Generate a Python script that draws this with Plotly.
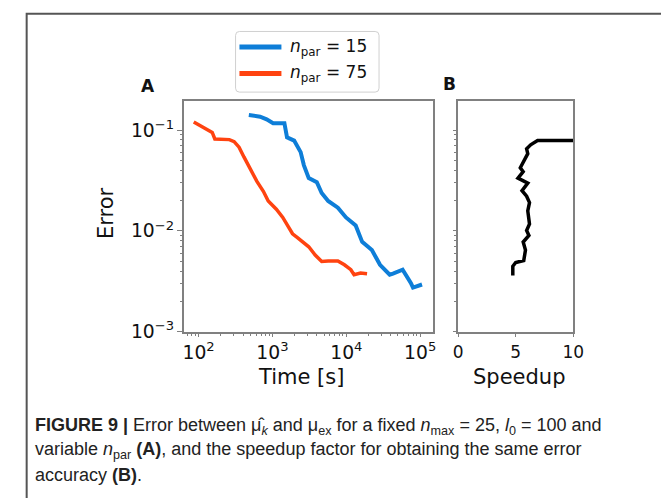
import plotly.graph_objects as go

# ---------------- data ----------------
red_time = [86, 111, 135, 153, 166, 203, 261, 303, 353, 411, 455, 529, 616, 753, 877,
            1129, 1380, 1607, 1871, 2178, 2535, 3100, 3790, 4640, 5680, 7690, 9420,
            11520, 12740, 15590, 19100]
red_err = [0.1205, 0.108, 0.0991, 0.0948, 0.0817, 0.081, 0.0805, 0.0769, 0.0678, 0.0542,
           0.0467, 0.0387, 0.031, 0.0247, 0.0198, 0.0164, 0.0136, 0.0113, 0.00937,
           0.00857, 0.00778, 0.00696, 0.00577, 0.00497, 0.00504, 0.00504, 0.00461,
           0.00412, 0.00368, 0.00382, 0.00376]

blue_time = [479, 681, 834, 1021, 1452, 1575, 1967, 2410, 2662, 3100, 3990, 4640, 5680,
             7690, 9900, 13400, 16400, 22200, 28600, 38700, 42900, 57900, 74700, 80000,
             106000]
blue_err = [0.141, 0.136, 0.128, 0.117, 0.117, 0.0848, 0.0787, 0.0605, 0.045, 0.0334,
            0.0305, 0.0238, 0.0198, 0.017, 0.0136, 0.0113, 0.00778, 0.00646, 0.00461,
            0.00368, 0.00376, 0.00412, 0.00305, 0.00274, 0.00294]

speedup = [10.6, 6.9, 6.3, 5.95, 6.05, 5.75, 5.4, 5.65, 5.2, 6.05, 5.55, 5.95, 6.2, 6.05,
           6.2, 5.95, 6.15, 5.65, 5.85, 5.7, 5.0, 4.75, 4.75]
speedup_err = [0.0787, 0.0787, 0.0715, 0.0653, 0.0584, 0.0503, 0.0423, 0.0387, 0.0334,
               0.0298, 0.0251, 0.0221, 0.0191, 0.0158, 0.0117, 0.0101, 0.00902, 0.00776,
               0.00645, 0.00508, 0.00486, 0.00446, 0.0036]

series_names = ["<i>n</i><sub>par</sub> = 15", "<i>n</i><sub>par</sub> = 75"]
speed_ticks = [0, 5, 10]

BLUE = "#0e7ed8"
RED = "#ff4310"
W, H = 669, 498


def px(x):
    return x / W


def py(y):
    return 1 - y / H


fig = go.Figure()
fig.add_trace(go.Scatter(x=blue_time, y=blue_err, mode="lines", name=series_names[0],
                         line=dict(color=BLUE, width=4), xaxis="x", yaxis="y",
                         showlegend=False))
fig.add_trace(go.Scatter(x=red_time, y=red_err, mode="lines", name=series_names[1],
                         line=dict(color=RED, width=3.5), xaxis="x", yaxis="y",
                         showlegend=False))
fig.add_trace(go.Scatter(x=speedup, y=speedup_err, mode="lines", name="speedup",
                         line=dict(color="black", width=3.5), xaxis="x2", yaxis="y2",
                         showlegend=False))

AX = "#808080"
TICKFONT = dict(family="DejaVu Sans", size=15, color="#111")
common = dict(showline=True, linecolor=AX, linewidth=1.5, mirror=True, showgrid=False,
              zeroline=False, ticks="outside", tickwidth=1.2, tickcolor=AX)

fig.update_layout(
    width=W, height=H, margin=dict(l=0, r=0, t=0, b=0),
    paper_bgcolor="white", plot_bgcolor="white",
    xaxis=dict(type="log", domain=[px(175), px(430)], range=[1.80, 5.17], dtick=1,
               exponentformat="power", tickfont=TICKFONT, anchor="y", ticklen=4,
               minor=dict(ticks="outside", ticklen=2.5, tickcolor=AX, dtick="D1"),
               **common),
    yaxis=dict(type="log", domain=[py(331), py(95)], range=[-3, -0.71], dtick=1,
               exponentformat="power", tickfont=TICKFONT, anchor="x", ticklen=5,
               minor=dict(ticks="outside", ticklen=2.5, tickcolor=AX, dtick="D1"),
               **common),
    xaxis2=dict(domain=[px(456), px(574)], range=[0, 10], tickvals=speed_ticks,
                tickfont=dict(family="DejaVu Sans", size=17, color="#111"), anchor="y2",
                ticklen=4, **common),
    yaxis2=dict(type="log", domain=[py(331), py(95)], range=[-3, -0.71], dtick=1,
                showticklabels=False, anchor="x2", ticklen=3,
                minor=dict(ticks="outside", ticklen=2, tickcolor=AX, dtick="D1"),
                **common),
)

ann = []
# axis titles
TF = dict(family="DejaVu Sans", size=21, color="#111")
ann.append(dict(x=px(295), y=py(377), text="Time [s]", font=TF))
ann.append(dict(x=px(518), y=py(377), text="Speedup", font=TF))
ann.append(dict(x=px(96), y=py(210), text="Error", font=TF, textangle=-90))
# panel letters
PF = dict(family="DejaVu Sans", size=17, color="#111")
ann.append(dict(x=px(138), y=py(80), text="<b>A</b>", font=PF))
ann.append(dict(x=px(447), y=py(78), text="<b>B</b>", font=PF))
# legend text
LF = dict(family="DejaVu Sans", size=17, color="#111")
ann.append(dict(x=px(282), y=py(40), text=series_names[0], font=LF, xanchor="left"))
ann.append(dict(x=px(282), y=py(67), text=series_names[1], font=LF, xanchor="left"))
# caption
CF = dict(family="Liberation Sans, Arial", size=18, color="#222")
cap = [
    "<b>FIGURE 9 |</b> Error between μ̂<sub><i>k</i></sub> and μ<sub>ex</sub> for a fixed "
    "<i>n</i><sub>max</sub> = 25, <i>l</i><sub>0</sub> = 100 and",
    "variable <i>n</i><sub>par</sub> <b>(A)</b>, and the speedup factor for obtaining the same error",
    "accuracy <b>(B)</b>.",
]
for i, t in enumerate(cap):
    ann.append(dict(x=px(21), y=py(428 + 25 * i), text=t, font=CF, xanchor="left"))

for a in ann:
    a.setdefault("xanchor", "center")
    a.update(xref="paper", yref="paper", showarrow=False, yanchor="middle")
fig.update_layout(annotations=ann)

shapes = []
# outer frame
shapes.append(dict(type="path", xref="paper", yref="paper",
                   path=f"M {px(14)},{py(510)} L {px(14)},{py(6)} L {px(667.5)},{py(6)} L {px(667.5)},{py(510)}",
                   line=dict(color="#555", width=2)))
# legend box (rounded)
x0, x1, y0, y1 = 228, 375, 24, 86
r = 4
rx, ry = r / W, r / H
shapes.append(dict(type="path", xref="paper", yref="paper",
                   path=(f"M {px(x0)+rx},{py(y0)} L {px(x1)-rx},{py(y0)} Q {px(x1)},{py(y0)} {px(x1)},{py(y0)-ry} "
                         f"L {px(x1)},{py(y1)+ry} Q {px(x1)},{py(y1)} {px(x1)-rx},{py(y1)} "
                         f"L {px(x0)+rx},{py(y1)} Q {px(x0)},{py(y1)} {px(x0)},{py(y1)+ry} "
                         f"L {px(x0)},{py(y0)-ry} Q {px(x0)},{py(y0)} {px(x0)+rx},{py(y0)} Z"),
                   line=dict(color="#d0d0d0", width=1), fillcolor="white"))
shapes.append(dict(type="line", xref="paper", yref="paper", x0=px(232), x1=px(275),
                   y0=py(40), y1=py(40), line=dict(color=BLUE, width=5)))
shapes.append(dict(type="line", xref="paper", yref="paper", x0=px(232), x1=px(275),
                   y0=py(67), y1=py(67), line=dict(color=RED, width=5)))
fig.update_layout(shapes=shapes)

fig.write_html("out.html")
